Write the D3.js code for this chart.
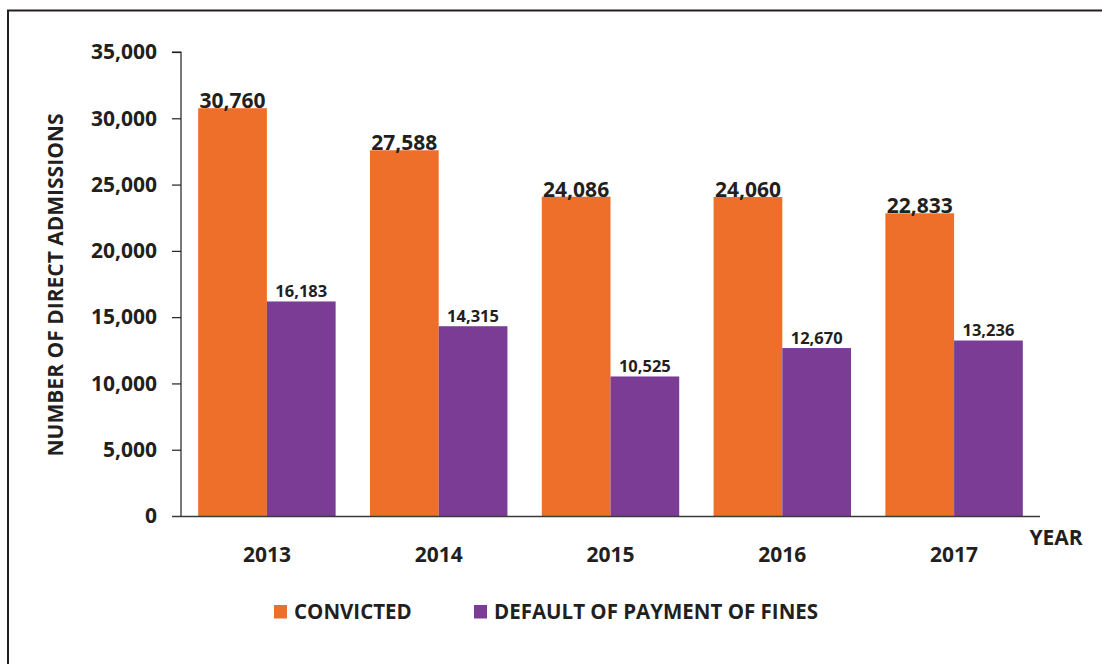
<!DOCTYPE html>
<html><head><meta charset="utf-8">
<script src="https://cdn.jsdelivr.net/npm/d3@7"></script>
<style>
body{margin:0;background:#fff;}
svg{display:block;font-family:"Open Sans",sans-serif;font-weight:700;}
</style></head>
<body>
<svg id="chart" width="1102" height="664"></svg>
<script>
const years = ["2013","2014","2015","2016","2017"];
const convicted = [30760, 27588, 24086, 24060, 22833];
const defaultFines = [16183, 14315, 10525, 12670, 13236];
const seriesNames = ["CONVICTED", "DEFAULT OF PAYMENT OF FINES"];
const seriesColors = ["#EE6F2A", "#7B3C96"];
const yTicks = [0, 5000, 10000, 15000, 20000, 25000, 30000, 35000];

const svg = d3.select("#chart");
const textColor = "#231F20";

// frame
svg.append("path").attr("d","M8,664 V10.5 H1102").attr("fill","none").attr("stroke","#231F20").attr("stroke-width",2);

const mLeft = 181, mRight = 1040, mTop = 52, mBottom = 516;
const x = d3.scaleBand().domain(years).range([mLeft, mRight]).paddingInner(0.2).paddingOuter(0.1);
const xs = d3.scaleBand().domain([0,1]).range([0, x.bandwidth()]);
const y = d3.scaleLinear().domain([0, 35000]).range([mBottom, mTop]);

// y axis
const yAxis = svg.append("g").attr("transform",`translate(${mLeft},0)`)
  .call(d3.axisLeft(y).tickValues(yTicks).tickSize(9).tickPadding(15).tickFormat(d3.format(",")));
yAxis.select(".domain").attr("stroke","#231F20").attr("stroke-width",1.2).attr("d",`M-9,${mTop}H0V${mBottom}`);
yAxis.selectAll(".tick line").attr("stroke","#231F20").attr("stroke-width",1.2);
yAxis.selectAll(".tick text").attr("fill",textColor).style("font-size","21px").style("font-weight","700").attr("font-family","Open Sans");
yAxis.selectAll(".tick").filter(d=>d===0).select("line").remove();

// bars
const data = years.map((yr,i)=>({yr, vals:[convicted[i], defaultFines[i]]}));
const g = svg.append("g");
data.forEach(d=>{
  d.vals.forEach((v,s)=>{
    g.append("rect")
      .attr("x", x(d.yr)+xs(s))
      .attr("y", y(v))
      .attr("width", xs.bandwidth())
      .attr("height", y(0)-y(v))
      .attr("fill", seriesColors[s]);
  });
});
// x axis line
svg.append("line").attr("x1",mLeft-9).attr("x2",mRight).attr("y1",mBottom+0.5).attr("y2",mBottom+0.5)
  .attr("stroke","#3a3a3a").attr("stroke-width",1.5);

// value labels
data.forEach(d=>{
  d.vals.forEach((v,s)=>{
    svg.append("text")
      .attr("x", x(d.yr)+xs(s)+xs.bandwidth()/2)
      .attr("y", y(v) - (s===0 ? 0 : 4.5))
      .attr("text-anchor","middle")
      .attr("fill",textColor)
      .style("font-size", s===0 ? "21px" : "16.5px")
      .text(d3.format(",")(v));
  });
});

// x labels
years.forEach(yr=>{
  svg.append("text").attr("x", x(yr)+x.bandwidth()/2).attr("y", 562)
    .attr("text-anchor","middle").attr("fill",textColor).style("font-size","21px").text(yr);
});
svg.append("text").attr("x",1056).attr("y",545).attr("text-anchor","middle").attr("fill",textColor)
  .style("font-size","21px").text("YEAR");

// y title
svg.append("text").attr("transform",`translate(63,285) rotate(-90)`).attr("text-anchor","middle")
  .attr("fill",textColor).style("font-size","21px").text("NUMBER OF DIRECT ADMISSIONS");

// legend
const legendX = [274, 474];
seriesNames.forEach((n,i)=>{
  svg.append("rect").attr("x",legendX[i]).attr("y",605).attr("width",13).attr("height",13.5).attr("fill",seriesColors[i]);
  svg.append("text").attr("x",legendX[i]+20).attr("y",619).attr("fill",textColor).style("font-size","20.5px").text(n);
});
</script>
</body></html>
